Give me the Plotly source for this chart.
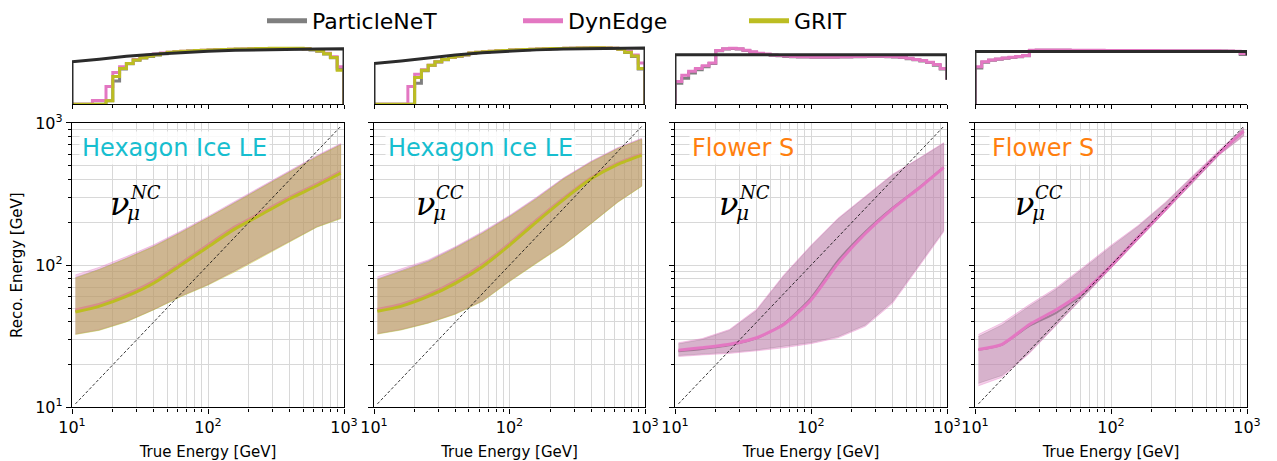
import numpy as np
import plotly.graph_objects as go

# ---------------- data ----------------
E_TRUE = [10.6, 15.8, 25.1, 39.8, 63.1, 100, 158, 251, 398, 631, 944]

# Hexagon Ice LE, nu_mu NC
HEX_NC_PNET_MED = [47.5, 52, 61, 75.5, 101, 136, 182, 232, 296, 367, 449]
HEX_NC_PNET_LO = [32.8, 35, 40.2, 48.7, 60.5, 73, 91, 116, 147, 186, 214]
HEX_NC_PNET_HI = [82, 93.5, 112, 136, 171, 216, 277, 356, 458, 582, 706]
HEX_NC_DYN_MED = [48.5, 53, 62.3, 77, 103, 139, 186, 236, 300, 372, 455]
HEX_NC_DYN_LO = [33, 35.3, 40.5, 49, 61, 73.5, 91.5, 117, 148, 188, 216]
HEX_NC_DYN_HI = [85.5, 96.5, 115, 139, 174, 220, 282, 362, 465, 590, 716]
HEX_NC_GRIT_MED = [46.9, 51.4, 60.3, 74.6, 100, 134.5, 180, 229, 292, 362, 443]
HEX_NC_GRIT_LO = [32.6, 34.8, 39.9, 48.5, 60, 72.5, 90, 115, 146, 185, 212]
HEX_NC_GRIT_HI = [81, 92.7, 111, 134.6, 169, 214, 274, 352, 453, 576, 700]

# Hexagon Ice LE, nu_mu CC
HEX_CC_PNET_MED = [48, 52, 61, 75.8, 99, 140, 204, 292, 407, 517, 598]
HEX_CC_PNET_LO = [33, 35.2, 39.3, 45.5, 56, 77.3, 104, 139, 196, 279, 360]
HEX_CC_PNET_HI = [80, 91.5, 107, 133, 169, 221, 296, 408, 531, 665, 772]
HEX_CC_DYN_MED = [48.8, 53, 62, 77, 101, 142, 207, 296, 411, 522, 604]
HEX_CC_DYN_LO = [33.2, 35.5, 39.6, 45.8, 56.5, 78, 105, 140, 198, 281, 363]
HEX_CC_DYN_HI = [83, 94, 109, 135, 172, 224, 300, 412, 537, 672, 780]
HEX_CC_GRIT_MED = [47.4, 51.4, 60.3, 74.6, 97.7, 138, 201, 289, 403, 512, 592]
HEX_CC_GRIT_LO = [32.8, 35, 39.1, 45.2, 55.7, 76.7, 103, 138, 195, 277, 358]
HEX_CC_GRIT_HI = [78.9, 90, 105, 131, 167, 218, 292, 403, 526, 659, 765]

# Flower S, nu_mu NC
FLW_NC_PNET_MED = [24.8, 25.8, 27.4, 30.6, 38.8, 59, 108, 172, 253, 355, 488]
FLW_NC_PNET_LO = [23.2, 23.8, 24.4, 25.4, 26.8, 28.6, 31.5, 38, 55.5, 103, 175]
FLW_NC_PNET_HI = [28, 30, 34.8, 48, 84, 136, 211, 304, 431, 564, 718]
FLW_NC_DYN_MED = [25.3, 26.3, 27.8, 30.9, 38.3, 57, 103, 167, 249, 352, 486]
FLW_NC_DYN_LO = [22.8, 23.4, 24, 25, 26.3, 28.1, 30.9, 37.2, 54, 100, 171]
FLW_NC_DYN_HI = [28.5, 30.5, 35.3, 49, 85.5, 138, 214, 308, 436, 570, 726]

# Flower S, nu_mu CC
FLW_CC_PNET_MED = [25.4, 27.6, 37.5, 46.5, 63.5, 98, 156, 247, 397, 618, 872]
FLW_CC_PNET_LO = [14.8, 16.8, 24.3, 38.3, 60.5, 95, 151, 239, 380, 603, 815]
FLW_CC_PNET_HI = [31.5, 38, 51.5, 68, 95.5, 135, 187, 273, 420, 640, 915]
FLW_CC_DYN_MED = [25.6, 27.8, 38.3, 48.8, 65.3, 99, 157, 248, 398, 620, 875]
FLW_CC_DYN_LO = [14.2, 16.3, 24, 38, 60, 94, 150, 238, 378, 600, 807]
FLW_CC_DYN_HI = [32.6, 39.3, 52.9, 69.7, 97.7, 138, 190, 277, 425, 650, 923]

# top histograms (relative height), 40 log bins from 10 to 1000 GeV
HIST_EDGES = list(np.logspace(1, 3, 41))
HIST_ALL_X = [10, 15.85, 25.12, 39.81, 63.1, 100, 158.5, 251.2, 398.1, 631, 1000]

HEX_NC_HIST_ALL = [0.749, 0.795, 0.848, 0.883, 0.912, 0.936, 0.953, 0.965, 0.971, 0.977, 0.982]
HEX_CC_HIST_ALL = [0.72, 0.765, 0.82, 0.87, 0.91, 0.94, 0.96, 0.975, 0.985, 0.99, 0.995]
FLW_NC_HIST_ALL = [0.875, 0.875, 0.875, 0.875, 0.875, 0.875, 0.875, 0.875, 0.875, 0.875, 0.875]
FLW_CC_HIST_ALL = [0.93, 0.93, 0.93, 0.93, 0.93, 0.93, 0.93, 0.93, 0.93, 0.93, 0.93]
HIST_ALL_END = [0.0, 0.0, 0.43, 0.865]

HEX_NC_HIST_PNET = [0, 0, 0, 0, 0, 0.06, 0.41, 0.62, 0.715, 0.775, 0.815, 0.845, 0.87, 0.89, 0.915,
                    0.925, 0.932, 0.938, 0.944, 0.95, 0.955, 0.959, 0.963, 0.967, 0.97, 0.973, 0.976,
                    0.978, 0.98, 0.982, 0.983, 0.984, 0.984, 0.982, 0.975, 0.96, 0.935, 0.885, 0.82, 0.62]
HEX_NC_HIST_DYN = [0, 0, 0, 0.065, 0.065, 0.31, 0.56, 0.66, 0.72, 0.79, 0.835, 0.865, 0.885, 0.905, 0.918,
                   0.927, 0.934, 0.94, 0.946, 0.952, 0.957, 0.961, 0.965, 0.969, 0.972, 0.975, 0.978,
                   0.98, 0.982, 0.984, 0.985, 0.986, 0.986, 0.984, 0.978, 0.966, 0.945, 0.90, 0.84, 0.66]
HEX_NC_HIST_GRIT = [0, 0, 0, 0, 0, 0.06, 0.49, 0.63, 0.72, 0.78, 0.82, 0.85, 0.875, 0.897, 0.92,
                    0.929, 0.935, 0.941, 0.947, 0.953, 0.958, 0.962, 0.966, 0.97, 0.974, 0.977, 0.98,
                    0.983, 0.985, 0.987, 0.988, 0.989, 0.989, 0.987, 0.98, 0.965, 0.94, 0.89, 0.826, 0.60]

HEX_CC_HIST_PNET = [0, 0, 0, 0, 0, 0, 0.37, 0.59, 0.685, 0.745, 0.785, 0.825, 0.845, 0.87, 0.9,
                    0.913, 0.923, 0.932, 0.94, 0.947, 0.953, 0.958, 0.963, 0.968, 0.972, 0.976, 0.98,
                    0.983, 0.986, 0.988, 0.99, 0.992, 0.993, 0.993, 0.99, 0.985, 0.965, 0.915, 0.845, 0.62]
HEX_CC_HIST_DYN = [0, 0, 0, 0, 0, 0.31, 0.53, 0.61, 0.69, 0.75, 0.79, 0.83, 0.85, 0.875, 0.905,
                   0.918, 0.928, 0.936, 0.943, 0.95, 0.956, 0.961, 0.966, 0.971, 0.975, 0.979, 0.983,
                   0.986, 0.989, 0.991, 0.993, 0.995, 0.996, 0.996, 0.994, 0.99, 0.975, 0.935, 0.87, 0.73]
HEX_CC_HIST_GRIT = [0, 0, 0, 0, 0, 0, 0.47, 0.60, 0.69, 0.75, 0.79, 0.83, 0.85, 0.875, 0.905,
                    0.918, 0.928, 0.936, 0.943, 0.95, 0.956, 0.961, 0.966, 0.971, 0.975, 0.979, 0.983,
                    0.986, 0.989, 0.991, 0.993, 0.995, 0.996, 0.996, 0.994, 0.99, 0.97, 0.92, 0.85, 0.63]

FLW_NC_HIST_PNET = [0.37, 0.46, 0.55, 0.61, 0.66, 0.72, 0.945, 0.975, 0.985, 0.975, 0.95, 0.92, 0.895, 0.88,
                    0.865, 0.855, 0.845, 0.84, 0.835, 0.833, 0.831, 0.83, 0.83, 0.831, 0.833, 0.835, 0.837,
                    0.84, 0.841, 0.842, 0.842, 0.84, 0.835, 0.825, 0.805, 0.785, 0.765, 0.735, 0.69, 0.62]
FLW_NC_HIST_DYN = [0.40, 0.51, 0.58, 0.63, 0.68, 0.73, 0.95, 0.98, 0.99, 0.98, 0.955, 0.925, 0.90, 0.885,
                   0.87, 0.86, 0.85, 0.845, 0.84, 0.838, 0.836, 0.835, 0.835, 0.836, 0.838, 0.84, 0.842,
                   0.845, 0.846, 0.847, 0.847, 0.845, 0.84, 0.83, 0.81, 0.79, 0.77, 0.74, 0.70, 0.63]

FLW_CC_HIST_PNET = [0.64, 0.74, 0.775, 0.795, 0.81, 0.825, 0.84, 0.855, 0.95, 0.952, 0.953, 0.953, 0.953,
                    0.952, 0.951, 0.951, 0.95, 0.949, 0.948, 0.947, 0.946, 0.946, 0.945, 0.944, 0.944,
                    0.943, 0.943, 0.942, 0.942, 0.941, 0.941, 0.941, 0.94, 0.94, 0.939, 0.939, 0.938,
                    0.936, 0.93, 0.88]
FLW_CC_HIST_DYN = [0.66, 0.75, 0.78, 0.80, 0.815, 0.83, 0.845, 0.86, 0.955, 0.956, 0.957, 0.957, 0.957,
                   0.956, 0.955, 0.955, 0.954, 0.953, 0.952, 0.951, 0.95, 0.95, 0.949, 0.948, 0.948,
                   0.947, 0.947, 0.946, 0.946, 0.945, 0.945, 0.945, 0.944, 0.944, 0.943, 0.943, 0.942,
                   0.94, 0.935, 0.895]

MODEL_NAMES = ["ParticleNeT", "DynEdge", "GRIT"]
DETECTORS = ["Hexagon Ice LE", "Hexagon Ice LE", "Flower S", "Flower S"]
INTERACTIONS = ["NC", "CC", "NC", "CC"]

X_TICKS = [10, 100, 1000]
X_TICK_TEXT = ["10<sup>1</sup>", "10<sup>2</sup>", "10<sup>3</sup>"]
MINOR_TICKS = [20, 30, 40, 50, 60, 70, 80, 90, 200, 300, 400, 500, 600, 700, 800, 900]

# ---------------- style ----------------
W, H = 1277, 461
MODEL_COLORS = {"ParticleNeT": "#7f7f7f", "DynEdge": "#e377c2", "GRIT": "#bcbd22"}
MODEL_FILLS = {"ParticleNeT": "rgba(127,127,127,0.35)", "DynEdge": "rgba(227,119,194,0.35)",
               "GRIT": "rgba(188,189,34,0.35)"}
MODEL_WIDTH = {"ParticleNeT": 2, "DynEdge": 3, "GRIT": 3}
DET_COLORS = {"Hexagon Ice LE": "#17becf", "Flower S": "#ff7f0e"}

PANEL_PX = [(72, 344), (374, 645), (675, 947), (975, 1247)]
MAIN_PY = (120, 407)
HIST_PY = (42, 101)
NU_X = [0.133, 0.148, 0.154, 0.141]
LABEL_X = [0.026, 0.041, 0.051, 0.051]


def sfx(n):
    return "" if n == 1 else str(n)


panels = [
    {"models": [("ParticleNeT", HEX_NC_PNET_LO, HEX_NC_PNET_MED, HEX_NC_PNET_HI, HEX_NC_HIST_PNET),
                ("DynEdge", HEX_NC_DYN_LO, HEX_NC_DYN_MED, HEX_NC_DYN_HI, HEX_NC_HIST_DYN),
                ("GRIT", HEX_NC_GRIT_LO, HEX_NC_GRIT_MED, HEX_NC_GRIT_HI, HEX_NC_HIST_GRIT)],
     "all": HEX_NC_HIST_ALL},
    {"models": [("ParticleNeT", HEX_CC_PNET_LO, HEX_CC_PNET_MED, HEX_CC_PNET_HI, HEX_CC_HIST_PNET),
                ("DynEdge", HEX_CC_DYN_LO, HEX_CC_DYN_MED, HEX_CC_DYN_HI, HEX_CC_HIST_DYN),
                ("GRIT", HEX_CC_GRIT_LO, HEX_CC_GRIT_MED, HEX_CC_GRIT_HI, HEX_CC_HIST_GRIT)],
     "all": HEX_CC_HIST_ALL},
    {"models": [("ParticleNeT", FLW_NC_PNET_LO, FLW_NC_PNET_MED, FLW_NC_PNET_HI, FLW_NC_HIST_PNET),
                ("DynEdge", FLW_NC_DYN_LO, FLW_NC_DYN_MED, FLW_NC_DYN_HI, FLW_NC_HIST_DYN)],
     "all": FLW_NC_HIST_ALL},
    {"models": [("ParticleNeT", FLW_CC_PNET_LO, FLW_CC_PNET_MED, FLW_CC_PNET_HI, FLW_CC_HIST_PNET),
                ("DynEdge", FLW_CC_DYN_LO, FLW_CC_DYN_MED, FLW_CC_DYN_HI, FLW_CC_HIST_DYN)],
     "all": FLW_CC_HIST_ALL},
]

fig = go.Figure()
GRID = "#d8d8d8"
layout = {}

for i, p in enumerate(panels):
    n_main = i + 1
    n_hist = i + 5
    xm, ym = "x" + sfx(n_main), "y" + sfx(n_main)
    xh, yh = "x" + sfx(n_hist), "y" + sfx(n_hist)
    x0, x1 = PANEL_PX[i]
    dom_x = [x0 / W, x1 / W]

    # main panel: bands + medians
    for name, lo, med, hi, _ in p["models"]:
        fig.add_trace(go.Scatter(
            x=E_TRUE + E_TRUE[::-1], y=hi + lo[::-1], mode="lines", fill="toself",
            fillcolor=MODEL_FILLS[name], line=dict(color=MODEL_FILLS[name], width=1),
            hoverinfo="skip", showlegend=False, xaxis=xm, yaxis=ym))
        fig.add_trace(go.Scatter(
            x=E_TRUE, y=med, mode="lines", line=dict(color=MODEL_COLORS[name], width=MODEL_WIDTH[name],
                                                     shape="spline", smoothing=0.6),
            showlegend=False, xaxis=xm, yaxis=ym))
    # identity line
    fig.add_trace(go.Scatter(x=[E_TRUE[0], E_TRUE[-1]], y=[E_TRUE[0], E_TRUE[-1]], mode="lines",
                             line=dict(color="black", width=0.8, dash="3px,2px"), showlegend=False,
                             hoverinfo="skip", xaxis=xm, yaxis=ym))

    # top histograms
    for name, _, _, _, hist in p["models"]:
        hx = [HIST_EDGES[0]] + HIST_EDGES + [HIST_EDGES[-1]]
        hy = [0] + hist + [hist[-1], min(hist[-1], HIST_ALL_END[i])]
        fig.add_trace(go.Scatter(x=hx, y=hy, mode="lines",
                                 line=dict(color=MODEL_COLORS[name], width=3, shape="hv"),
                                 showlegend=False, hoverinfo="skip", xaxis=xh, yaxis=yh))
    ax = [HIST_ALL_X[0]] + HIST_ALL_X + [HIST_ALL_X[-1]]
    ay = [0] + p["all"] + [HIST_ALL_END[i]]
    fig.add_trace(go.Scatter(x=ax, y=ay, mode="lines", line=dict(color="#2b2b2b", width=3),
                             showlegend=False, hoverinfo="skip", xaxis=xh, yaxis=yh))

    common_x = dict(type="log", range=[1, 3], domain=dom_x, showline=True, linecolor="black",
                    linewidth=1.3, ticks="outside", tickcolor="black", tickwidth=1, tickvals=X_TICKS,
                    automargin=False)
    layout["xaxis" + sfx(n_main)] = dict(
        common_x, anchor=ym, mirror=True, ticklen=5, ticktext=X_TICK_TEXT,
        tickfont=dict(size=16, color="black"), showgrid=True, gridcolor=GRID, gridwidth=1,
        minor=dict(tickvals=MINOR_TICKS, ticks="outside", ticklen=3, tickcolor="black",
                   showgrid=True, gridcolor=GRID, gridwidth=1),
        title=dict(text="True Energy [GeV]", font=dict(size=15, color="black"), standoff=12))
    layout["yaxis" + sfx(n_main)] = dict(
        type="log", range=[1, 3], domain=[1 - MAIN_PY[1] / H, 1 - MAIN_PY[0] / H], anchor=xm,
        showline=True, linecolor="black", linewidth=1.3, mirror=True, ticks="outside", ticklen=5,
        tickcolor="black", tickvals=X_TICKS, ticktext=X_TICK_TEXT, showticklabels=(i == 0),
        tickfont=dict(size=16, color="black"), showgrid=True, gridcolor=GRID, automargin=False,
        minor=dict(tickvals=MINOR_TICKS, ticks="outside", ticklen=3, tickcolor="black",
                   showgrid=True, gridcolor=GRID),
        title=dict(text="Reco. Energy [GeV]" if i == 0 else "", font=dict(size=15, color="black"),
                   standoff=8))
    layout["xaxis" + sfx(n_hist)] = dict(
        common_x, anchor=yh, ticklen=4, showticklabels=False, showgrid=False,
        minor=dict(tickvals=MINOR_TICKS, ticks="outside", ticklen=2.5, tickcolor="black"))
    layout["yaxis" + sfx(n_hist)] = dict(range=[0, 1.035], domain=[1 - HIST_PY[1] / H, 1 - HIST_PY[0] / H],
                                         anchor=xh, visible=False, automargin=False)

# legend proxies (one legend per model)
LEGEND_PX = [262, 518, 744]
for j, name in enumerate(MODEL_NAMES):
    lg = "legend" if j == 0 else f"legend{j + 1}"
    fig.add_trace(go.Scatter(x=[None], y=[None], mode="lines", name=name,
                             line=dict(color=MODEL_COLORS[name], width=5),
                             legend=lg, showlegend=True, xaxis="x", yaxis="y"))
    layout[lg] = dict(x=LEGEND_PX[j] / W, y=1 - 17 / H, xanchor="left", yanchor="middle",
                      orientation="h", font=dict(size=22, color="black"), bgcolor="rgba(0,0,0,0)",
                      itemwidth=40)

annotations = []
for i in range(4):
    xr, yr = "x" + sfx(i + 1) + " domain", "y" + sfx(i + 1) + " domain"
    det = DETECTORS[i]
    annotations.append(dict(text=det, xref=xr, yref=yr, x=LABEL_X[i], y=0.913, xanchor="left",
                            yanchor="middle", showarrow=False, bgcolor="rgba(255,255,255,0.85)",
                            borderpad=2, font=dict(size=24, color=DET_COLORS[det])))
    annotations.append(dict(text="<i>ν</i>", xref=xr, yref=yr, x=NU_X[i], y=0.714, xanchor="left",
                            yanchor="middle", showarrow=False,
                            font=dict(size=32, color="black", family="DejaVu Serif")))
    annotations.append(dict(text="<i>" + INTERACTIONS[i] + "</i>", xref=xr, yref=yr, x=NU_X[i],
                            y=0.714, xanchor="left", yanchor="middle", xshift=20, yshift=12,
                            showarrow=False, font=dict(size=18, color="black", family="DejaVu Serif")))
    annotations.append(dict(text="<i>μ</i>", xref=xr, yref=yr, x=NU_X[i], y=0.714, xanchor="left",
                            yanchor="middle", xshift=17, yshift=-9, showarrow=False,
                            font=dict(size=20, color="black", family="DejaVu Serif")))

fig.update_layout(width=W, height=H, margin=dict(l=0, r=0, t=0, b=0), paper_bgcolor="white",
                  plot_bgcolor="white", font=dict(family="DejaVu Sans", color="black"),
                  annotations=annotations, **layout)

fig.write_html("out.html")
